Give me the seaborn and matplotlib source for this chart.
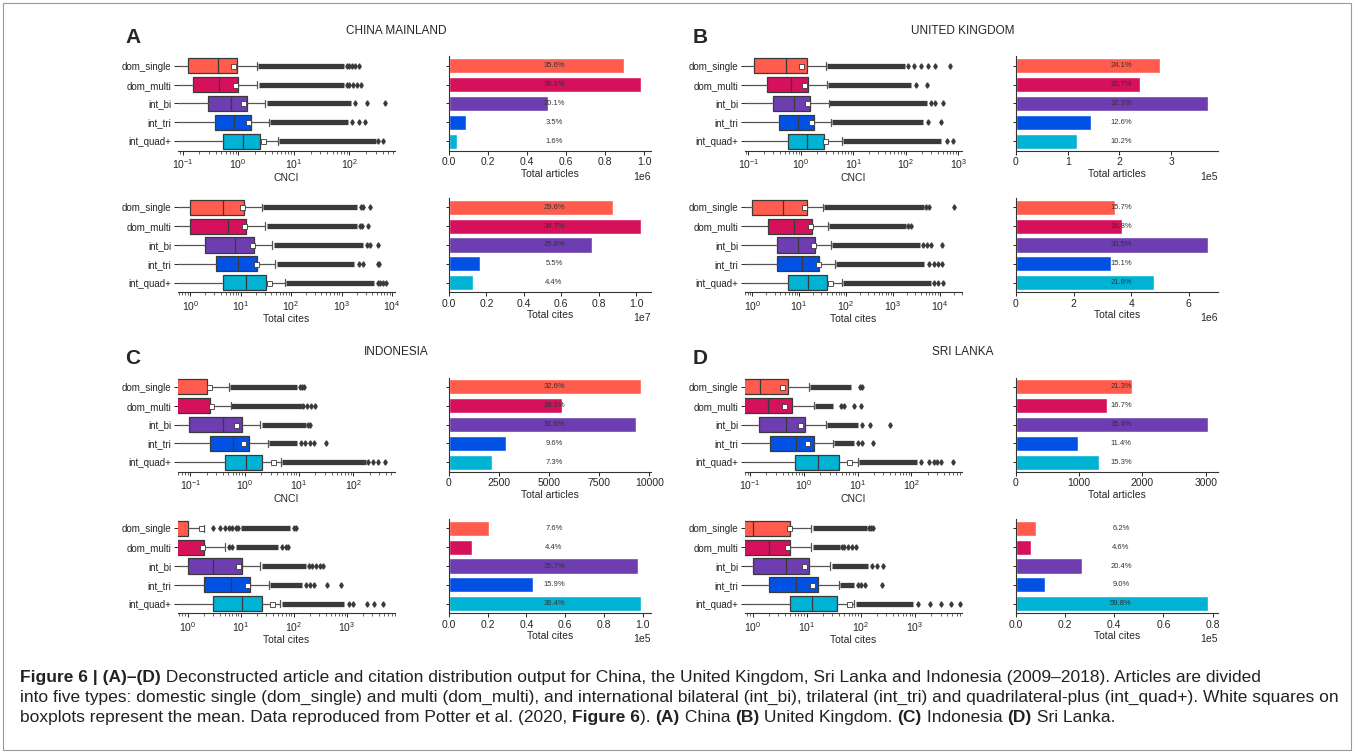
import matplotlib
matplotlib.use("Agg")
import matplotlib.pyplot as plt
import matplotlib.transforms as mtransforms
from matplotlib.patches import Rectangle
from matplotlib.ticker import MultipleLocator
import seaborn as sns

sns.set_style("ticks")
plt.rcParams["font.family"] = ["Liberation Sans", "DejaVu Sans"]
plt.rcParams["mathtext.fontset"] = "custom"
plt.rcParams["mathtext.rm"] = "Liberation Sans"
plt.rcParams["mathtext.it"] = "Liberation Sans:italic"
plt.rcParams["mathtext.bf"] = "Liberation Sans:bold"

TYPES = ["dom_single", "dom_multi", "int_bi", "int_tri", "int_quad+"]
COLORS = ["#FF5C4D", "#D4115A", "#6E3DAF", "#0051E4", "#00B2D4"]
ZERO = 1e-3  # zero counts, off the left of the log axis

# --- box stats per type: q1, median, q3, mean, upper whisker
# dense outlier run (from, to) and the sparse outliers beyond it

cn_cnci_box = [[0.128, 0.43, 0.94, 0.80, 2.15],
               [0.155, 0.45, 1.01, 0.87, 2.2],
               [0.284, 0.73, 1.43, 1.24, 3.1],
               [0.38, 0.84, 1.73, 1.5, 3.6],
               [0.545, 1.21, 2.49, 2.75, 5.1]]
cn_cnci_band = [(2.3, 80), (2.35, 80), (3.3, 107), (3.8, 93), (5.4, 296)]
cn_cnci_out = [[90, 100, 110, 128, 150], [90, 100, 115, 135, 160],
               [124, 206, 437], [110, 150, 190], [330, 400]]

cn_cites_box = [[1, 4.5, 11.5, 10.5, 27],
                [1, 5.5, 13, 11.5, 31],
                [2, 7.6, 18, 16.5, 42],
                [3.3, 8.9, 21, 20, 48],
                [4.4, 13, 32, 37, 75]]
cn_cites_band = [(28, 2000), (33, 2000), (45, 2700), (52, 1750), (80, 4500)]
cn_cites_out = [[2400, 2700, 3600], [2300, 2600, 3400], [3200, 3700, 5300],
                [2200, 2700, 5200, 5600], [5200, 5800, 6500, 7500]]

uk_cnci_box = [[0.13, 0.53, 1.29, 0.99, 3.0],
               [0.227, 0.64, 1.39, 1.13, 3.16],
               [0.295, 0.75, 1.5, 1.33, 3.4],
               [0.39, 0.89, 1.81, 1.57, 3.8],
               [0.575, 1.28, 2.79, 2.9, 6.0]]
uk_cnci_band = [(3.1, 98), (3.3, 123), (3.5, 250), (3.9, 215), (6.2, 460)]
uk_cnci_out = [[110, 140, 190, 260, 360, 680], [155, 256], [300, 365, 500],
               [260, 460], [600, 800]]

uk_cites_box = [[1, 4.6, 14.8, 12.5, 32],
                [2.2, 7.8, 19, 17, 42],
                [3.4, 9.3, 22, 20, 48],
                [3.4, 11.4, 26, 25, 59],
                [5.7, 15.6, 40, 45, 84]]
uk_cites_band = [(34, 4600), (44, 1900), (50, 3800), (62, 4600), (88, 6500)]
uk_cites_out = [[5200, 6000, 20000], [2100, 2400], [4500, 5500, 6500, 11000],
                [5800, 7500, 9000, 11000], [7500, 9000, 12000]]

id_cnci_box = [[ZERO, ZERO, 0.204, 0.22, 0.51],
               [ZERO, ZERO, 0.226, 0.236, 0.55],
               [0.093, 0.4, 0.9, 0.69, 1.95],
               [0.226, 0.61, 1.21, 0.95, 2.7],
               [0.44, 1.04, 2.09, 3.3, 4.6]]
id_cnci_band = [(0.53, 9.3), (0.57, 11.5), (2.05, 13.5), (2.8, 9.3), (4.8, 170)]
id_cnci_out = [[10.5, 11.5, 12.5], [12, 14, 17, 20], [14.5, 16],
               [11, 13, 16, 19, 31.6], [190, 230, 290, 380]]

id_cites_box = [[ZERO, ZERO, 1, 1.8, 2],
                [ZERO, ZERO, 2, 1.83, 5],
                [1, 3, 10.6, 8.9, 23],
                [2, 6.7, 15, 13.1, 34],
                [3, 10.6, 25, 39.5, 56]]
id_cites_band = [(10, 85), (8, 50), (25, 167), (36, 144), (60, 890)]
id_cites_out = [[3, 4, 5, 6, 7, 8, 9, 100, 110], [6, 7, 60, 70, 78],
                [190, 220, 260, 310, 355], [170, 200, 240, 415, 760],
                [1100, 1300, 2400, 3200, 4800]]

lk_cnci_box = [[ZERO, 0.15, 0.5, 0.39, 1.25],
               [ZERO, 0.21, 0.59, 0.42, 1.55],
               [0.145, 0.455, 1.04, 0.86, 2.6],
               [0.237, 0.72, 1.51, 1.16, 3.5],
               [0.69, 1.81, 4.4, 6.9, 10]]
lk_cnci_band = [(1.3, 7.4), (1.6, 3.5), (2.7, 10), (3.6, 8.6), (10.5, 125)]
lk_cnci_out = [[11, 12], [4.8, 5.5, 8.6, 11.6], [12, 17, 40], [10, 12, 19.5],
               [150, 210, 260, 300, 350, 590]]

lk_cites_box = [[ZERO, 1, 5, 4.7, 12],
                [ZERO, 2, 5, 4.4, 12],
                [1, 4.2, 11, 9, 27],
                [2, 6.3, 16, 12.7, 39],
                [5, 12.5, 37, 60, 75]]
lk_cites_band = [(13, 130), (13, 42), (29, 137), (41, 76), (82, 930)]
lk_cites_out = [[140, 155, 170], [45, 50, 58, 70, 82], [160, 200, 260],
                [90, 100, 120, 250], [1150, 1950, 3000, 4600, 7000]]

# --- totals per type and share of the country total (%)
cn_articles = [0.897e6, 0.985e6, 0.507e6, 0.088e6, 0.040e6]
cn_articles_pct = [35.6, 39.1, 20.1, 3.5, 1.6]
cn_cites = [0.877e7, 1.028e7, 0.764e7, 0.163e7, 0.130e7]
cn_cites_pct = [29.6, 34.7, 25.8, 5.5, 4.4]
uk_articles = [2.78e5, 2.39e5, 3.72e5, 1.45e5, 1.17e5]
uk_articles_pct = [24.1, 20.7, 32.3, 12.6, 10.2]
uk_cites = [3.44e6, 3.68e6, 6.68e6, 3.31e6, 4.78e6]
uk_cites_pct = [15.7, 16.8, 30.5, 15.1, 21.8]
id_articles = [9600, 5620, 9310, 2830, 2150]
id_articles_pct = [32.6, 19.1, 31.6, 9.6, 7.3]
id_cites = [0.207e5, 0.120e5, 0.975e5, 0.434e5, 0.994e5]
id_cites_pct = [7.6, 4.4, 35.7, 15.9, 36.4]
lk_articles = [1831, 1436, 3043, 980, 1315]
lk_articles_pct = [21.3, 16.7, 35.4, 11.4, 15.3]
lk_cites = [0.081e5, 0.060e5, 0.267e5, 0.118e5, 0.783e5]
lk_cites_pct = [6.2, 4.6, 20.4, 9.0, 59.8]

LINE = "#3a3a3a"
W, H = 1355, 754
ROW_H = 94
fig = plt.figure(figsize=(W / 100, H / 100), dpi=100)


def add_ax(x0, x1, top):
    return fig.add_axes([x0 / W, 1 - (top + ROW_H) / H, (x1 - x0) / W, ROW_H / H])


def style(ax):
    sns.despine(ax=ax)
    for s in ("left", "bottom"):
        ax.spines[s].set_linewidth(0.8)
        ax.spines[s].set_color("#333333")
    ax.tick_params(labelsize=7.5, length=3, width=0.7, pad=2)
    ax.tick_params(axis="x", which="minor", length=1.8, width=0.5)


def draw_box(ax, box, band, out, xlim, xlabel):
    stats = [dict(q1=b[0], med=b[1], q3=b[2], mean=b[3], whislo=ZERO,
                  whishi=b[4], fliers=o) for b, o in zip(box, out)]
    ax.set_xscale("log")
    bp = ax.bxp(stats, positions=range(5), widths=0.8, orientation="horizontal",
                patch_artist=True, showmeans=True, manage_ticks=False,
                boxprops=dict(edgecolor=LINE, linewidth=0.9),
                medianprops=dict(color=LINE, linewidth=0.9),
                whiskerprops=dict(color="#555555", linewidth=0.9),
                capprops=dict(color="#555555", linewidth=0.9),
                meanprops=dict(marker="s", markerfacecolor="white",
                               markeredgecolor=LINE, markersize=3.6,
                               markeredgewidth=0.6),
                flierprops=dict(marker="d", markerfacecolor=LINE,
                                markeredgecolor=LINE, markersize=2.7))
    for patch, c in zip(bp["boxes"], COLORS):
        patch.set_facecolor(c)
    ax.hlines(range(5), [b[0] for b in band], [b[1] for b in band],
              color=LINE, lw=3.8, zorder=1.5)
    ax.set_xlim(xlim)
    ax.set_ylim(4.5, -0.5)
    ax.set_yticks(range(5), TYPES)
    ax.set_xlabel(xlabel, fontsize=7.5, labelpad=1)
    style(ax)
    ax.spines["left"].set_visible(False)
    ax.tick_params(axis="y", labelsize=7)


def draw_bar(ax, vals, pct, order, step, xlabel):
    sns.barplot(x=vals, y=TYPES, hue=TYPES, palette=COLORS, saturation=1,
                legend=False, width=0.8, ax=ax)
    ax.set_ylim(4.5, -0.5)
    ax.set_ylabel("")
    ax.set_xlabel(xlabel, fontsize=7.5, labelpad=1)
    ax.xaxis.set_major_locator(MultipleLocator(step))
    if order:
        ax.ticklabel_format(axis="x", style="sci", scilimits=(order, order))
    style(ax)
    ax.tick_params(axis="y", labelleft=False, length=2)
    ax.xaxis.get_offset_text().set_fontsize(7.5)
    tr = mtransforms.blended_transform_factory(ax.transAxes, ax.transData)
    for i, p in enumerate(pct):
        ax.text(0.52, i, f"{p:.1f}%", transform=tr, ha="center", va="center",
                fontsize=5.5, color="#333333")


panels = [
    ("A", "CHINA MAINLAND", 0, 56.5,
     (cn_cnci_box, cn_cnci_band, cn_cnci_out, (0.083, 660)),
     (cn_cites_box, cn_cites_band, cn_cites_out, (0.57, 11500)),
     (cn_articles, cn_articles_pct, 6, 0.2e6), (cn_cites, cn_cites_pct, 7, 0.2e7)),
    ("B", "UNITED KINGDOM", 1, 56.5,
     (uk_cnci_box, uk_cnci_band, uk_cnci_out, (0.086, 1170)),
     (uk_cites_box, uk_cites_band, uk_cites_out, (0.7, 30000)),
     (uk_articles, uk_articles_pct, 5, 1e5), (uk_cites, uk_cites_pct, 6, 2e6)),
    ("C", "INDONESIA", 0, 377.5,
     (id_cnci_box, id_cnci_band, id_cnci_out, (0.059, 590)),
     (id_cites_box, id_cites_band, id_cites_out, (0.66, 8000)),
     (id_articles, id_articles_pct, None, 2500), (id_cites, id_cites_pct, 5, 0.2e5)),
    ("D", "SRI LANKA", 1, 377.5,
     (lk_cnci_box, lk_cnci_band, lk_cnci_out, (0.08, 870)),
     (lk_cites_box, lk_cites_band, lk_cites_out, (0.72, 7500)),
     (lk_articles, lk_articles_pct, None, 1000), (lk_cites, lk_cites_pct, 5, 0.2e5)),
]

for letter, title, col, top, box_a, box_c, bar_a, bar_c in panels:
    dx = 567 * col
    ax = add_ax(178 + dx, 395 + dx, top)
    draw_box(ax, *box_a, "CNCI")
    ax = add_ax(178 + dx, 395 + dx, top + 141.5)
    draw_box(ax, *box_c, "Total cites")
    ax = add_ax(449 + dx, 651 + dx, top)
    draw_bar(ax, *bar_a, "Total articles")
    ax = add_ax(449 + dx, 651 + dx, top + 141.5)
    draw_bar(ax, *bar_c, "Total cites")
    fig.text((133 + dx) / W, 1 - (top - 19) / H, letter, fontsize=15,
             fontweight="bold", ha="center", va="center")
    fig.text((396 + dx) / W, 1 - (top - 25.5) / H, title, fontsize=8.5,
             ha="center", va="center")

# caption, drawn run by run so bold and normal parts sit side by side
CAP_FS = 12.5
renderer = fig.canvas.get_renderer()


def caption_line(y, runs, x0=20):
    x = x0
    for s, bold in runs:
        t = fig.text(x / W, 1 - y / H, s, fontsize=CAP_FS, va="baseline",
                     fontweight="bold" if bold else "normal", color="#222222")
        x += t.get_window_extent(renderer=renderer).width


caption_line(682, [("Figure 6 | (A)\u2013(D)", True),
                   (" Deconstructed article and citation distribution output for China, the United "
                    "Kingdom, Sri Lanka and Indonesia (2009\u20132018). Articles are divided", False)])
caption_line(702, [("into five types: domestic single (dom_single) and multi (dom_multi), and international "
                    "bilateral (int_bi), trilateral (int_tri) and quadrilateral-plus (int_quad+). White "
                    "squares on", False)])
caption_line(722, [("boxplots represent the mean. Data reproduced from Potter et al. (2020, ", False),
                   ("Figure 6", True), ("). ", False), ("(A)", True), (" China ", False),
                   ("(B)", True), (" United Kingdom. ", False), ("(C)", True),
                   (" Indonesia ", False), ("(D)", True), (" Sri Lanka.", False)])

fig.patches.append(Rectangle((3 / W, 1 - 750 / H), 1348 / W, 747 / H, fill=False,
                             edgecolor="#9a9a9a", linewidth=0.8,
                             transform=fig.transFigure, figure=fig))

fig.savefig("out.png", dpi=100, facecolor="white")
